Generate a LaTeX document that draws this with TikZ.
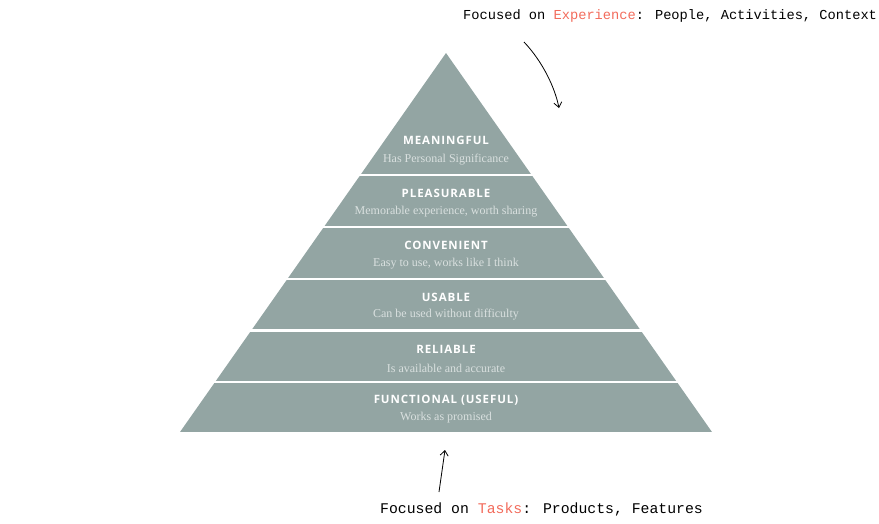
\documentclass[tikz,border=0pt]{standalone}
\usepackage{fontspec}
\usetikzlibrary{arrows.meta}
\newfontfamily\titlefont[LetterSpace=8]{Open Sans}
\newfontfamily\subfont{Liberation Serif}
\newfontfamily\handfont{Liberation Mono}
\definecolor{pyr}{HTML}{93A5A3}
\definecolor{subc}{HTML}{D9E0DF}
\definecolor{accent}{HTML}{F26B5B}
\tikzset{
  band/.style={fill=pyr},
  title/.style={text=white, font=\titlefont\bfseries\fontsize{11.5}{13}\selectfont, inner sep=0pt, anchor=center},
  subtitle/.style={text=subc, font=\subfont\fontsize{12}{14}\selectfont, inner sep=0pt, anchor=center},
  hand/.style={inner sep=0pt, anchor=west},
  handarrow/.style={-{Straight Barb[length=5pt,width=8pt]}, line width=0.8pt, black},
}
\begin{document}
\begin{tikzpicture}[x=1pt,y=-1pt]
\useasboundingbox (0,0) rectangle (879,523);
% pyramid
\begin{scope}
\clip (446,53) -- (180,432) -- (712,432) -- cycle;
\fill[band] (150,40) rectangle (740,173.8);
\fill[band] (150,176.2) rectangle (740,225.8);
\fill[band] (150,228.2) rectangle (740,277.8);
\fill[band] (150,280.2) rectangle (740,329.1);
\fill[band] (150,331.5) rectangle (740,380.5);
\fill[band] (150,382.9) rectangle (740,432);
\end{scope}
% labels
\node[title] (t1) at (446,140) {MEANINGFUL};
\node[subtitle] (s1) at (446,160) {Has Personal Significance};
\node[title] (t2) at (446,193) {PLEASURABLE};
\node[subtitle] (s2) at (446,212) {Memorable experience, worth sharing};
\node[title] (t3) at (446,245) {CONVENIENT};
\node[subtitle] (s3) at (446,264) {Easy to use, works like I think};
\node[title] (t4) at (446,297) {USABLE};
\node[subtitle] (s4) at (446,315) {Can be used without difficulty};
\node[title] (t5) at (446,349) {RELIABLE};
\node[subtitle] (s5) at (446,368) {Is available and accurate};
\node[title] (t6) at (446,400) {FUNCTIONAL (USEFUL)};
\node[subtitle] (s6) at (446,418) {Works as promised};
% annotations
\node[hand, font=\handfont\fontsize{13.7}{16}\selectfont] (top) at (463,16) {Focused on \textcolor{accent}{Experience}: People, Activities, Context};
\node[hand, font=\handfont\fontsize{14.8}{17}\selectfont] (bot) at (380,509) {Focused on \textcolor{accent}{Tasks}: Products, Features};
\coordinate (a1) at (524,42);
\coordinate (a2) at (559,108);
\draw[handarrow] (a1) .. controls (543,62) and (555,88) .. (a2);
\coordinate (b1) at (439,492);
\coordinate (b2) at (445,450);
\draw[handarrow] (b1) -- (b2);
\end{tikzpicture}
\end{document}
